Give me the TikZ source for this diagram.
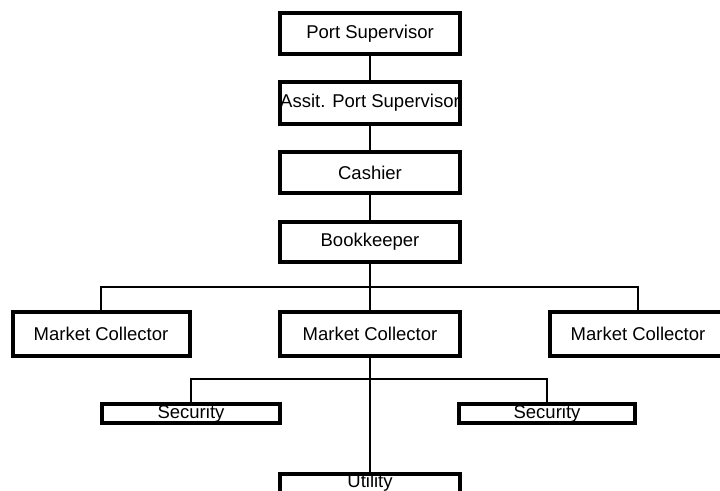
\documentclass[tikz,border=0pt]{standalone}
\usepackage{fontspec}
\setmainfont{Liberation Sans}
\begin{document}
\begin{tikzpicture}[x=1pt,y=-1pt,
  txt/.style={font=\fontsize{18.5}{20}\selectfont,inner sep=0pt},
  box/.style={draw=black,line width=4pt,fill=white,rectangle,inner sep=0pt,txt},
  link/.style={draw=black,line width=2pt}]
\useasboundingbox (0,0) rectangle (720,490);
\clip (0,0) rectangle (720,490);
\fill[white] (0,0) rectangle (720,490);
% nodes
\node[box,minimum width=180pt,minimum height=41pt] (ps) at (370,33.5) {Port Supervisor};
\node[box,minimum width=180pt,minimum height=42pt] (aps) at (370,103) {Assit. Port Supervisor};
\node[box,minimum width=180pt,minimum height=41pt] (cash) at (370,172.5) {Cashier};
\node[box,minimum width=180pt,minimum height=40pt] (book) at (370,242) {Bookkeeper};
\node[box,minimum width=177pt,minimum height=44pt] (mcl) at (101,334) {Market Collector};
\node[box,minimum width=180pt,minimum height=44pt] (mcm) at (370,334) {Market Collector};
\node[box,minimum width=176pt,minimum height=44pt] (mcr) at (638,334) {Market Collector};
\node[box,minimum width=178pt,minimum height=19pt] (secl) at (191,413.5) {Security};
\node[box,minimum width=176pt,minimum height=19pt] (secr) at (547,413.5) {Security};
\node[box,minimum width=180pt,minimum height=24pt] (util) at (370,486) {};
\node[txt] (utiltext) at (370,482.8) {Utility};
% connector junctions
\coordinate (busA) at (370,287);
\coordinate (busB) at (370,379);
% connectors
\draw[link] (ps.south) -- (aps.north);
\draw[link] (aps.south) -- (cash.north);
\draw[link] (cash.south) -- (book.north);
\draw[link] (book.south) -- (mcm.north);
\draw[link] (mcl.north) |- (busA) -| (mcr.north);
\draw[link] (mcm.south) -- (util.north);
\draw[link] (secl.north) |- (busB) -| (secr.north);
\end{tikzpicture}
\end{document}
